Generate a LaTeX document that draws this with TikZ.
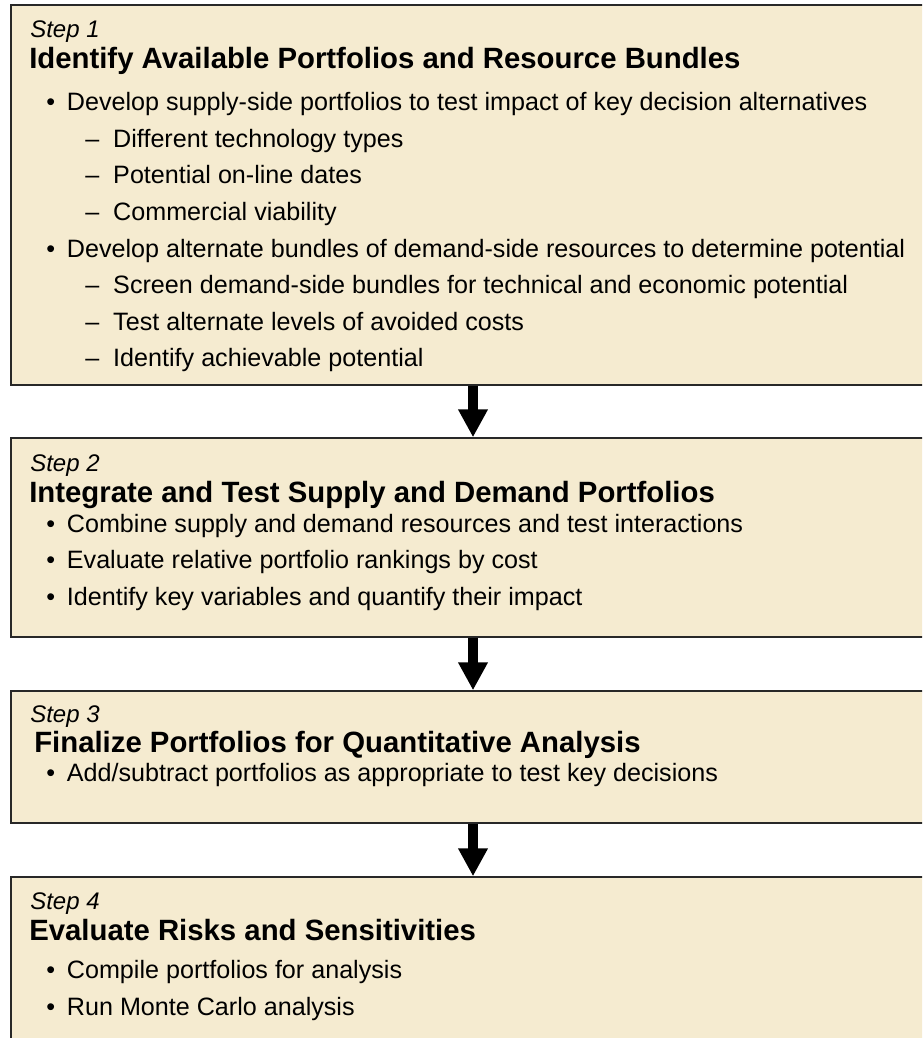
\documentclass[tikz,border=0pt]{standalone}
\usepackage{fontspec}
\setmainfont{Liberation Sans}
\usetikzlibrary{arrows.meta,positioning,fit}
\definecolor{stepfill}{RGB}{245,235,208}
\definecolor{stepline}{RGB}{40,40,40}
\newcommand{\bul}{\makebox[15.5pt][l]{\textbullet}}
\newcommand{\dsh}{\makebox[21pt][l]{–}}

\begin{document}
\begin{tikzpicture}[x=0.75pt,y=-0.75pt,
        stepbox/.style={rectangle, draw=stepline, line width=1.1pt, fill=stepfill, inner sep=0pt},
        steplbl/.style={anchor=base west, inner sep=0pt, font=\fontsize{18}{21}\selectfont\itshape},
        steptitle/.style={anchor=base west, inner sep=0pt, font=\fontsize{22}{26}\selectfont\bfseries},
        item/.style={anchor=base west, inner sep=0pt, font=\fontsize{18.85}{22}\selectfont},
        bigarr/.style={-{Triangle[length=21pt,width=21pt]}, line width=7.5pt, black}
      ]
        \useasboundingbox (0,0) rectangle (922,1038);
        \clip (0,0) rectangle (922,1038);

        \node[stepbox, fit={(11,5) (950,385)}]    (s1) {};
        \node[stepbox, fit={(11,438) (950,637)}]  (s2) {};
        \node[stepbox, fit={(11,691) (950,823)}]  (s3) {};
        \node[stepbox, fit={(11,877) (950,1070)}] (s4) {};

        % step 1
        \node[steplbl]   (s1lbl)   at (30,38)    {Step 1};
        \node[steptitle] (s1title) at (29,69)    {Identify Available Portfolios and Resource Bundles};
        \node[item]      (s1a)     at (46,111)   {\bul Develop supply-side portfolios to test impact of key decision alternatives};
        \node[item]      (s1a1)    at (85,147.5) {\dsh Different technology types};
        \node[item]      (s1a2)    at (85,184)   {\dsh Potential on-line dates};
        \node[item]      (s1a3)    at (85,220.5) {\dsh Commercial viability};
        \node[item]      (s1b)     at (46,257)   {\bul Develop alternate bundles of demand-side resources to determine potential};
        \node[item]      (s1b1)    at (85,293.5) {\dsh Screen demand-side bundles for technical and economic potential};
        \node[item]      (s1b2)    at (85,330)   {\dsh Test alternate levels of avoided costs};
        \node[item]      (s1b3)    at (85,366.5) {\dsh Identify achievable potential};

        % step 2
        \node[steplbl]   (s2lbl)   at (30,471)   {Step 2};
        \node[steptitle] (s2title) at (29,502)   {Integrate and Test Supply and Demand Portfolios};
        \node[item]      (s2a)     at (46,532)   {\bul Combine supply and demand resources and test interactions};
        \node[item]      (s2b)     at (46,568.5) {\bul Evaluate relative portfolio rankings by cost};
        \node[item]      (s2c)     at (46,605)   {\bul Identify key variables and quantify their impact};

        % step 3
        \node[steplbl]   (s3lbl)   at (30,722)   {Step 3};
        \node[steptitle] (s3title) at (34,752)   {Finalize Portfolios for Quantitative Analysis};
        \node[item]      (s3a)     at (46,781)   {\bul Add/subtract portfolios as appropriate to test key decisions};

        % step 4
        \node[steplbl]   (s4lbl)   at (30,909)   {Step 4};
        \node[steptitle] (s4title) at (29,940)   {Evaluate Risks and Sensitivities};
        \node[item]      (s4a)     at (46,978)   {\bul Compile portfolios for analysis};
        \node[item]      (s4b)     at (46,1015)  {\bul Run Monte Carlo analysis};

        \coordinate (mid) at (473,0);
        \draw[bigarr] (mid |- s1.south) -- (mid |- s2.north);
        \draw[bigarr] (mid |- s2.south) -- (mid |- s3.north);
        \draw[bigarr] (mid |- s3.south) -- (mid |- s4.north);
      \end{tikzpicture}
\end{document}
